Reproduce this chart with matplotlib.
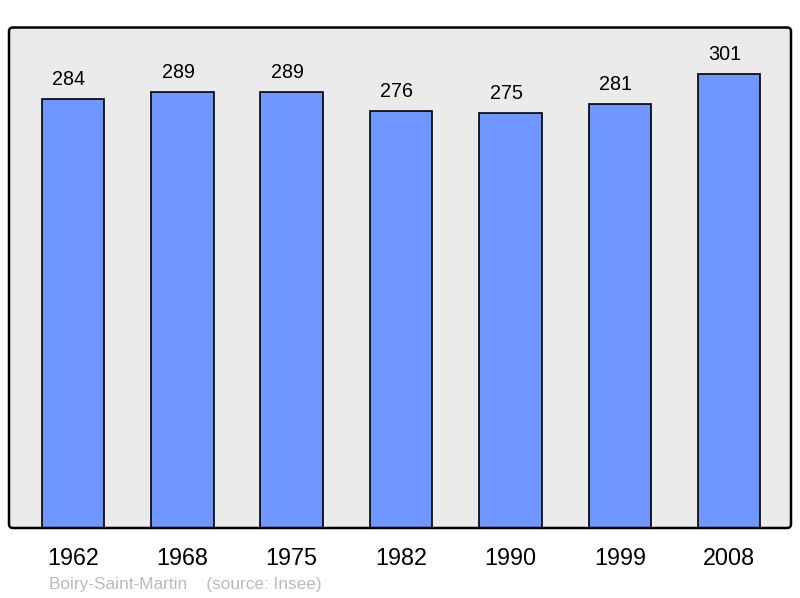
import matplotlib
matplotlib.use("Agg")
import matplotlib.pyplot as plt
from matplotlib.patches import FancyBboxPatch

years = ["1962", "1968", "1975", "1982", "1990", "1999", "2008"]
population = [284, 289, 289, 276, 275, 281, 301]
commune = "Boiry-Saint-Martin"
source = "(source: Insee)"

plt.rcParams['font.family'] = ['Liberation Sans', 'DejaVu Sans']

W, H = 800, 598
fig = plt.figure(figsize=(8, 5.98), dpi=100)
L, B, Wd, Ht = 9/W, 70/H, 782/W, 500.5/H
ax = fig.add_axes([L, B, Wd, Ht])
ax.set_facecolor('none')
for s in ax.spines.values():
    s.set_visible(False)

bg = FancyBboxPatch((L, B), Wd, Ht, boxstyle="round,pad=0,rounding_size=0.005",
                    mutation_aspect=W/H, transform=fig.transFigure,
                    facecolor='#ebebeb', edgecolor='none', zorder=0, clip_on=False)
ax.add_patch(bg)
frame = FancyBboxPatch((L, B), Wd, Ht, boxstyle="round,pad=0,rounding_size=0.005",
                       mutation_aspect=W/H, transform=fig.transFigure,
                       facecolor='none', edgecolor='black', linewidth=1.8,
                       zorder=5, clip_on=False)
ax.add_patch(frame)

x = list(range(len(years)))
ax.bar(x, population, width=0.572, color='#7096ff', edgecolor='black', linewidth=1.2, zorder=2)
for xi, v in zip(x, population):
    ax.annotate(str(v), (xi, v), xytext=(-3, 10), textcoords='offset points',
                ha='center', va='baseline', fontsize=14.2, color='black')

ax.set_xlim(-0.585, 6.565)
ax.set_ylim(0, 331.5)
ax.set_yticks([])
ax.set_xticks(x)
ax.set_xticklabels(years, fontsize=16.8)
ax.tick_params(axis='x', length=0, pad=14)

fig.text(49/W, 1 - 584/H, commune + "    " + source, fontsize=12.4,
         color='#bbbbbb', ha='left', va='center')

fig.savefig("out.png", dpi=100)
